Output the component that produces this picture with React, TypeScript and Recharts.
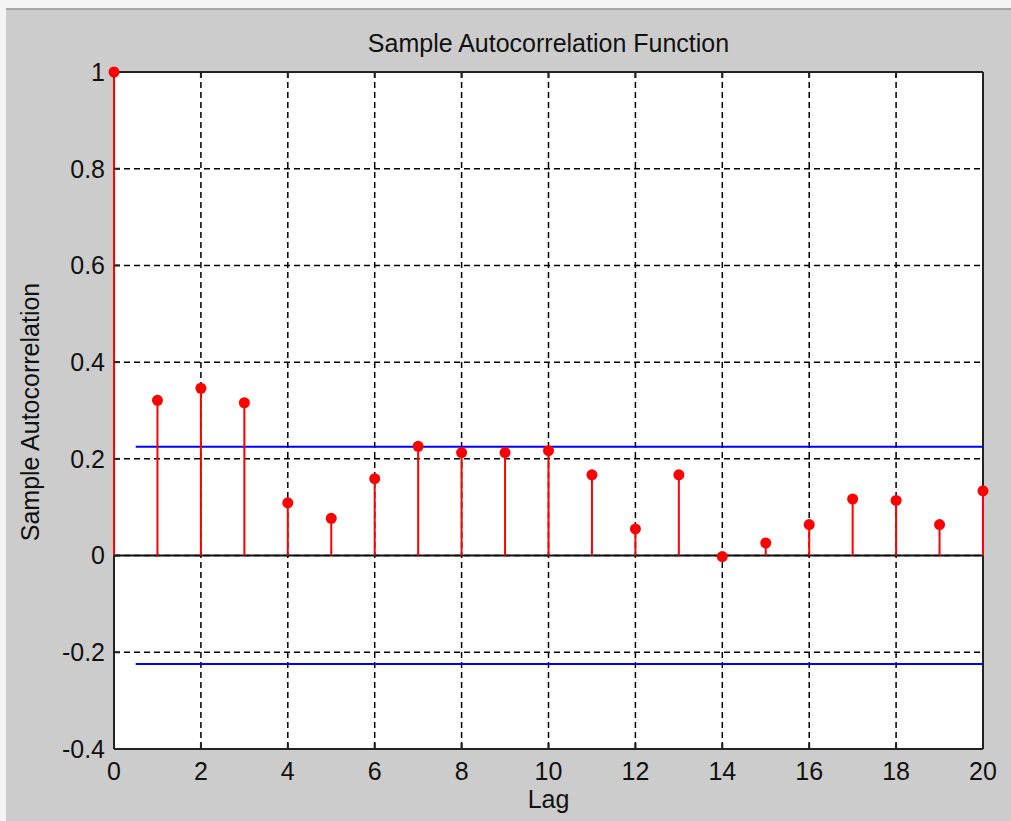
import React from "react";
import {
  ComposedChart,
  Scatter,
  ErrorBar,
  XAxis,
  YAxis,
  CartesianGrid,
  ReferenceLine,
} from "recharts";

const lags = [0, 1, 2, 3, 4, 5, 6, 7, 8, 9, 10, 11, 12, 13, 14, 15, 16, 17, 18, 19, 20];
const acf = [
  1, 0.321, 0.346, 0.316, 0.109, 0.077, 0.159, 0.226, 0.213, 0.213, 0.217,
  0.167, 0.055, 0.167, -0.002, 0.026, 0.064, 0.117, 0.114, 0.064, 0.134,
];
const bounds = [0.225, -0.224];
const xTicks = [0, 2, 4, 6, 8, 10, 12, 14, 16, 18, 20];
const yTicks = [-0.4, -0.2, 0, 0.2, 0.4, 0.6, 0.8, 1];

// stem runs from the point down (or up) to zero
const data = lags.map((lag, i) => ({ lag, value: acf[i], stem: [acf[i], 0] }));
const lastLag = lags[lags.length - 1];
const lastVal = acf[acf.length - 1];

const W = 1011;
const H = 821;
const font = "'Liberation Sans', Arial, sans-serif";
const tickStyle = { fill: "#111", fontSize: 25, fontFamily: font };
const axisLine = { stroke: "#222", strokeWidth: 2 };

const App: React.FC = () => {
  const blank = () => "";

  return (
    <div
      style={{
        position: "absolute",
        left: 0,
        top: 0,
        width: W,
        height: H,
        background: "#f4f4f4",
        overflow: "hidden",
      }}
    >
      <div
        style={{
          position: "absolute",
          left: 6,
          top: 8,
          right: 0,
          height: 2,
          background: "#a8a8a8",
        }}
      />
      <div
        style={{
          position: "absolute",
          left: 6,
          top: 10,
          right: 0,
          bottom: 0,
          background: "#cccccc",
        }}
      />
      <div style={{ position: "absolute", left: 0, top: 0 }}>
        <ComposedChart
          width={W}
          height={H}
          data={data}
          margin={{ top: 71, right: 27, bottom: 32, left: 0 }}
        >
          <CartesianGrid
            stroke="#000"
            strokeWidth={1.5}
            strokeDasharray="6 4"
            fill="#fff"
            fillOpacity={1}
          />
          <XAxis
            dataKey="lag"
            type="number"
            domain={[0, 20]}
            ticks={xTicks}
            interval={0}
            height={40}
            tickSize={-6}
            tickMargin={19}
            axisLine={axisLine}
            tickLine={axisLine}
            tick={tickStyle}
          />
          <XAxis
            xAxisId="top"
            orientation="top"
            type="number"
            domain={[0, 20]}
            ticks={xTicks}
            interval={0}
            height={1}
            tickSize={-6}
            tickFormatter={blank}
            axisLine={axisLine}
            tickLine={axisLine}
          />
          <YAxis
            type="number"
            domain={[-0.4, 1]}
            ticks={yTicks}
            interval={0}
            width={114}
            tickSize={-6}
            tickMargin={15}
            axisLine={false}
            tickLine={axisLine}
            tick={tickStyle}
            tickFormatter={(v: number) => String(Math.round(v * 10) / 10)}
          />
          <YAxis
            yAxisId="right"
            orientation="right"
            type="number"
            domain={[-0.4, 1]}
            ticks={yTicks}
            interval={0}
            width={1}
            tickSize={-6}
            tickFormatter={blank}
            axisLine={false}
            tickLine={axisLine}
          />
          {/* frame edges left open where the lag-0 and lag-20 stems sit */}
          <ReferenceLine
            segment={[
              { x: 0, y: -0.4 },
              { x: 0, y: 0 },
            ]}
            stroke="#222"
            strokeWidth={2}
          />
          <ReferenceLine
            segment={[
              { x: lastLag, y: -0.4 },
              { x: lastLag, y: 0 },
            ]}
            stroke="#222"
            strokeWidth={2}
          />
          <ReferenceLine
            segment={[
              { x: lastLag, y: lastVal },
              { x: lastLag, y: 1 },
            ]}
            stroke="#222"
            strokeWidth={2}
          />
          <ReferenceLine y={0} stroke="#111" strokeWidth={2} />
          {bounds.map((b) => (
            <ReferenceLine
              key={"b" + b}
              segment={[
                { x: 0.5, y: b },
                { x: 20, y: b },
              ]}
              stroke="#0000ff"
              strokeWidth={2}
            />
          ))}
          <Scatter
            dataKey="value"
            fill="#ff0000"
            isAnimationActive={false}
            shape={(p: any) => (
              <circle cx={p.cx} cy={p.cy} r={5.5} fill="#ff0000" />
            )}
          >
            <ErrorBar
              dataKey="stem"
              direction="y"
              width={0}
              stroke="#ff0000"
              strokeWidth={2}
              isAnimationActive={false}
            />
          </Scatter>
        </ComposedChart>
      </div>
      <div
        style={{
          position: "absolute",
          left: 114,
          width: 869,
          top: 28,
          textAlign: "center",
          fontFamily: font,
          fontSize: 25,
          color: "#111",
          lineHeight: "30px",
        }}
      >
        Sample Autocorrelation Function
      </div>
      <div
        style={{
          position: "absolute",
          left: 114,
          width: 869,
          top: 784,
          textAlign: "center",
          fontFamily: font,
          fontSize: 25,
          color: "#111",
          lineHeight: "30px",
        }}
      >
        Lag
      </div>
      <div
        style={{
          position: "absolute",
          left: 30,
          top: 412,
          transform: "translate(-50%, -50%) rotate(-90deg)",
          whiteSpace: "nowrap",
          fontFamily: font,
          fontSize: 25,
          color: "#111",
          lineHeight: "30px",
        }}
      >
        Sample Autocorrelation
      </div>
    </div>
  );
};

export default App;
